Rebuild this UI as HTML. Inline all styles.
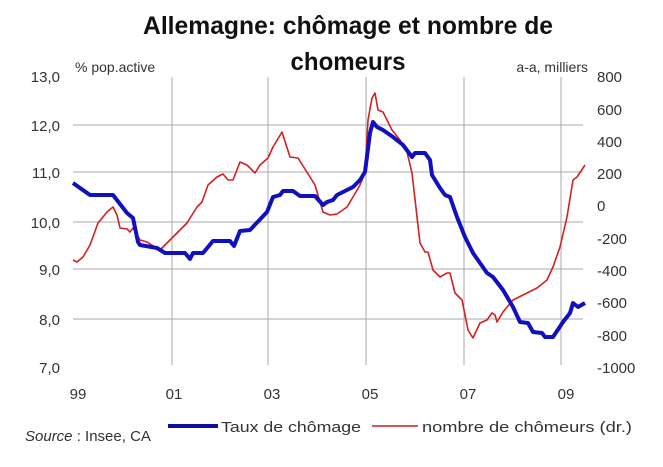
<!DOCTYPE html>
<html><head><meta charset="utf-8"><style>
body{margin:0;background:#fff;}
svg text{font-family:"Liberation Sans",sans-serif;fill:#333;}
</style></head><body>
<svg width="663" height="462" viewBox="0 0 663 462" xmlns="http://www.w3.org/2000/svg">
<rect width="663" height="462" fill="#fff"/>
<text x="348" y="34" text-anchor="middle" font-size="25" font-weight="bold" style="fill:#111" textLength="410" lengthAdjust="spacingAndGlyphs">Allemagne: chômage et nombre de</text>
<text x="348" y="70" text-anchor="middle" font-size="25" font-weight="bold" style="fill:#111" textLength="115" lengthAdjust="spacingAndGlyphs">chomeurs</text>
<g stroke="#aaa" stroke-width="1">
<line x1="73" y1="125" x2="583" y2="125"/><line x1="73" y1="172" x2="583" y2="172"/>
<line x1="73" y1="222" x2="583" y2="222"/><line x1="73" y1="269" x2="583" y2="269"/>
<line x1="73" y1="319" x2="583" y2="319"/>
<line x1="172" y1="77" x2="172" y2="365"/><line x1="268" y1="77" x2="268" y2="365"/>
<line x1="366" y1="77" x2="366" y2="365"/><line x1="464" y1="77" x2="464" y2="365"/>
<line x1="561" y1="77" x2="561" y2="365"/>
</g>
<g font-size="15" text-anchor="end">
<text x="60" y="82">13,0</text><text x="60" y="131">12,0</text><text x="60" y="178">11,0</text>
<text x="60" y="228">10,0</text><text x="60" y="275">9,0</text><text x="60" y="325">8,0</text><text x="60" y="373">7,0</text>
</g>
<g font-size="15">
<text x="597" y="82">800</text><text x="597" y="115">600</text><text x="597" y="147">400</text>
<text x="597" y="179">200</text><text x="597" y="211">0</text><text x="597" y="244">-200</text>
<text x="597" y="276">-400</text><text x="597" y="308">-600</text><text x="597" y="341">-800</text>
<text x="597" y="373">-1000</text>
</g>
<text x="75" y="72" font-size="14">% pop.active</text>
<text x="588" y="72" font-size="14" text-anchor="end">a-a, milliers</text>
<g font-size="15" text-anchor="middle">
<text x="78" y="399">99</text><text x="174" y="399">01</text><text x="272" y="399">03</text>
<text x="370" y="399">05</text><text x="468" y="399">07</text><text x="566" y="399">09</text>
</g>
<polyline fill="none" stroke="#d42020" stroke-width="1.6" stroke-linejoin="round" points="73,260 77,262 83,257 90,245 98,223 107,212 113,207 117,215 120,228 127,229 130,232 133,228 140,240 147,242 160,250 173,237 187,223 197,207 202,202 208,185 217,177 223,174 228,180 233,180 240,162 247,165 255,173 260,165 268,158 273,147 282,132 290,157 298,158 315,185 323,212 330,215 337,214 347,207 353,197 360,185 365,173 368,120 372,98 375,93 378,110 383,112 392,130 400,140 407,152 412,173 420,243 425,252 428,252 433,270 440,277 447,273 450,273 455,293 462,300 468,330 473,338 480,323 487,320 492,313 495,315 497,322 503,312 513,300 527,293 537,288 547,280 553,267 560,247 567,217 573,180 577,177 585,165"/>
<polyline fill="none" stroke="#1010c0" stroke-width="4" stroke-linejoin="round" points="73,183 80,188 90,195 113,195 127,213 133,218 138,242 140,245 157,248 165,253 185,253 190,259 193,253 203,253 213,241 230,241 234,246 240,231 250,230 267,212 273,197 280,195 283,191 293,191 300,196 315,196 323,205 327,202 333,200 337,195 347,190 353,187 360,180 365,172 370,133 373,122 377,127 383,130 393,137 403,145 412,157 415,153 425,153 430,160 432,175 440,188 445,195 450,197 457,217 465,237 473,253 487,273 493,277 503,290 513,307 520,322 528,323 533,332 542,333 545,337 553,337 563,322 570,313 573,303 578,307 585,303"/>
<line x1="168" y1="426" x2="218" y2="426" stroke="#1010a0" stroke-width="4"/>
<text x="221" y="432" font-size="15" textLength="140" lengthAdjust="spacingAndGlyphs">Taux de chômage</text>
<line x1="372" y1="426" x2="418" y2="426" stroke="#c02020" stroke-width="1.6"/>
<text x="422" y="432" font-size="15" textLength="210" lengthAdjust="spacingAndGlyphs">nombre de chômeurs (dr.)</text>
<text x="25" y="441" font-size="15"><tspan font-style="italic">Source</tspan> : Insee, CA</text>
</svg>
</body></html>
